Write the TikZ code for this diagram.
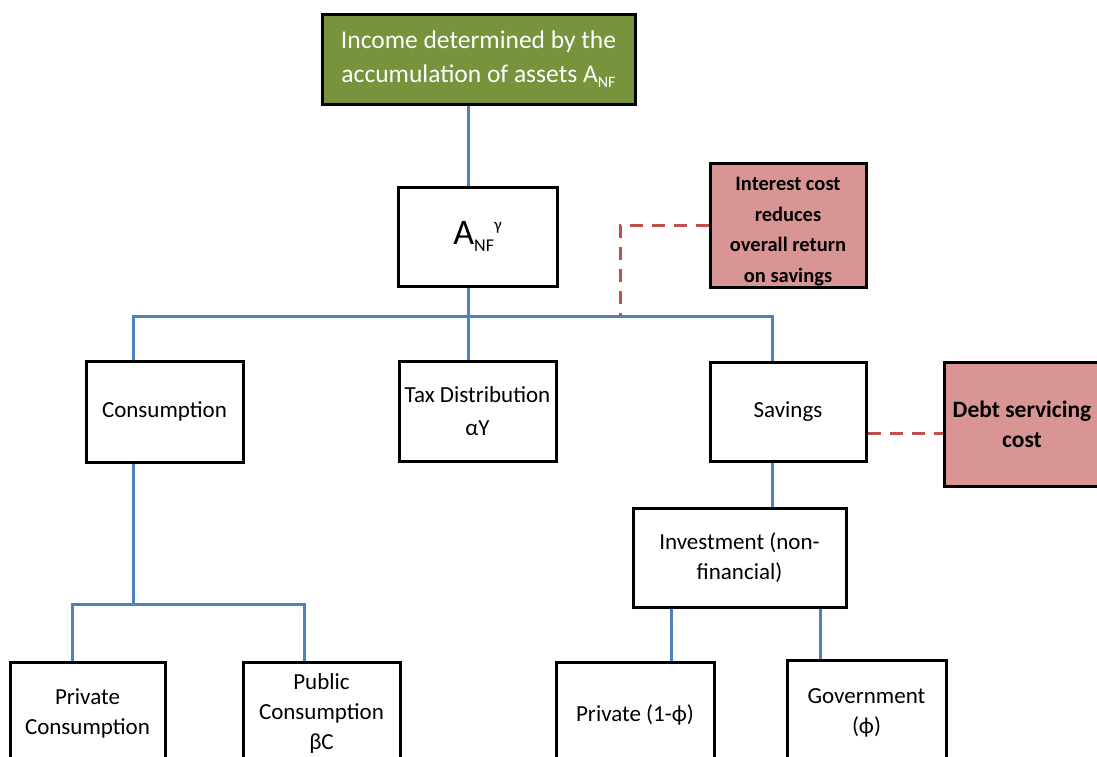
\documentclass[tikz,border=0pt]{standalone}
\usepackage{fontspec}
\setmainfont{Carlito}
\begin{document}
\begin{tikzpicture}[x=1pt,y=-1pt,
  box/.style={draw=black,line width=3pt,fill=white,align=center,inner sep=0pt,
    font=\fontsize{23}{30}\selectfont},
  pinkbox/.style={box,fill=pinkfill},
  link/.style={draw=linkblue,line width=3pt},
  dlink/.style={draw=dashred,line width=3pt,dash pattern=on 13pt off 9pt},
]
\definecolor{linkblue}{HTML}{4F81BD}
\definecolor{dashred}{HTML}{C0504D}
\definecolor{pinkfill}{HTML}{D99594}
\definecolor{olive}{HTML}{77933C}
\useasboundingbox (0,0) rectangle (1097,756);
\clip (0,0) rectangle (1097,756);

% nodes
\node[box,fill=olive,text=white,minimum width=313pt,minimum height=90pt,
  font=\fontsize{25.5}{34}\selectfont] (top) at (478.5,59)
  {Income determined by the\\accumulation of assets A\raisebox{-5pt}{\fontsize{16}{16}\selectfont NF}};
\node[box,minimum width=159pt,minimum height=99pt,font=\fontsize{36}{40}\selectfont] (anf) at (477.5,236.5)
  {A\raisebox{-7pt}{\fontsize{18}{18}\selectfont NF}\raisebox{14pt}{\fontsize{17}{17}\selectfont γ}};
\node[pinkbox,minimum width=156pt,minimum height=124pt,font=\fontsize{20.5}{30.5}\selectfont\bfseries] (interest) at (788,225)
  {\rule{0pt}{26pt}Interest cost\\reduces\\overall return\\on savings};
\node[box,minimum width=157pt,minimum height=101pt] (cons) at (164.5,411.5) {Consumption};
\node[box,minimum width=157pt,minimum height=100pt,font=\fontsize{23}{33}\selectfont] (tax) at (477.5,411) {Tax Distribution\\αY};
\node[box,minimum width=156pt,minimum height=99pt] (sav) at (788,411.5) {Savings};
\node[pinkbox,minimum width=156pt,minimum height=124pt,font=\fontsize{23.5}{30}\selectfont\bfseries] (debt) at (1022,424) {Debt servicing\\cost};
\node[box,minimum width=213pt,minimum height=99pt] (inv) at (739.5,557.5) {Investment (non-\\financial)};
\node[box,minimum width=155pt,minimum height=102pt] (pcons) at (87.5,713) {Private\\Consumption};
\node[box,minimum width=157pt,minimum height=102pt] (pubc) at (321.5,713) {Public\\Consumption\\βC};
\node[box,minimum width=158pt,minimum height=106pt] (priv) at (635,715) {Private (1-ϕ)};
\node[box,minimum width=159pt,minimum height=106pt] (gov) at (866.5,713) {Government\\(ϕ)};

% junction coordinates
\coordinate (jc) at (133,316);
\coordinate (jt) at (468,316);
\coordinate (js) at (772,316);
\coordinate (jd) at (620,316);
\coordinate (kc) at (133,604);
\coordinate (kl) at (72,604);
\coordinate (kr) at (304,604);
\coordinate (ia) at (671,600);
\coordinate (ib) at (820,600);

% connectors
\draw[link] (top.south -| jt) -- (anf.north -| jt);
\draw[link] (anf.south -| jt) -- (jt);
\draw[link] (cons.north -| jc) -- (jc) -- (js) -- (sav.north -| js);
\draw[link] (jt) -- (tax.north -| jt);
\draw[dlink] (interest.west) -| (jd);
\draw[dlink] (sav.east |- 0,433) -- (debt.west |- 0,433);
\draw[link] (cons.south -| kc) -- (kc);
\draw[link] (pcons.north -| kl) -- (kl) -- (kr) -- (pubc.north -| kr);
\draw[link] (sav.south -| js) -- (inv.north -| js);
\draw[link] (inv.south -| ia) -- (priv.north -| ia);
\draw[link] (inv.south -| ib) -- (gov.north -| ib);
\end{tikzpicture}
\end{document}
